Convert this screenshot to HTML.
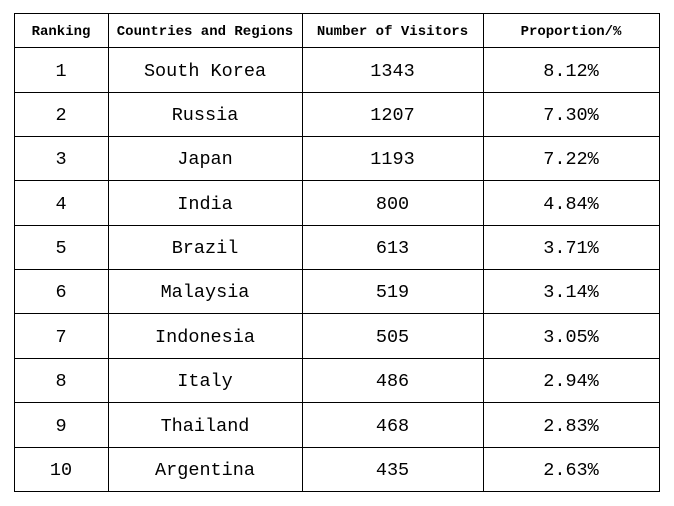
<!DOCTYPE html>
<html><head><style>
body{margin:0;width:674px;height:506px;background:#fff;position:relative;overflow:hidden;font-family:"Liberation Mono","Noto Sans CJK SC",monospace;color:#000}
.v{position:absolute;width:1px;background:#000;top:13px;height:479px}
.h{position:absolute;height:1px;background:#000;left:14px;width:646px}
.c{position:absolute;text-align:center;display:flex;align-items:center;justify-content:center;padding-top:3px;box-sizing:border-box}
.hd{font-weight:bold;font-size:14px}
.b{font-size:18.5px}
</style></head><body>
<div class="v" style="left:14px"></div><div class="v" style="left:108px"></div><div class="v" style="left:302px"></div><div class="v" style="left:483px"></div><div class="v" style="left:659px"></div>
<div id="g"></div>
<script>
var ys=[13,47,92,136,180,225,269,313,358,402,447,491];
var xs=[14,108,302,483,659];
var rows=[["Ranking","Countries and Regions","Number of Visitors","Proportion/%"],
["1","South Korea","1343","8.12%"],["2","Russia","1207","7.30%"],["3","Japan","1193","7.22%"],["4","India","800","4.84%"],["5","Brazil","613","3.71%"],["6","Malaysia","519","3.14%"],["7","Indonesia","505","3.05%"],["8","Italy","486","2.94%"],["9","Thailand","468","2.83%"],["10","Argentina","435","2.63%"]];
var h="";
ys.forEach(function(y){h+='<div class="h" style="top:'+y+'px"></div>';});
rows.forEach(function(r,i){r.forEach(function(t,j){
h+='<div class="c '+(i?'b':'hd')+'" style="left:'+xs[j]+'px;width:'+(xs[j+1]-xs[j])+'px;top:'+ys[i]+'px;height:'+(ys[i+1]-ys[i])+'px">'+t+'</div>';});});
document.getElementById("g").innerHTML=h;
</script>
</body></html>
